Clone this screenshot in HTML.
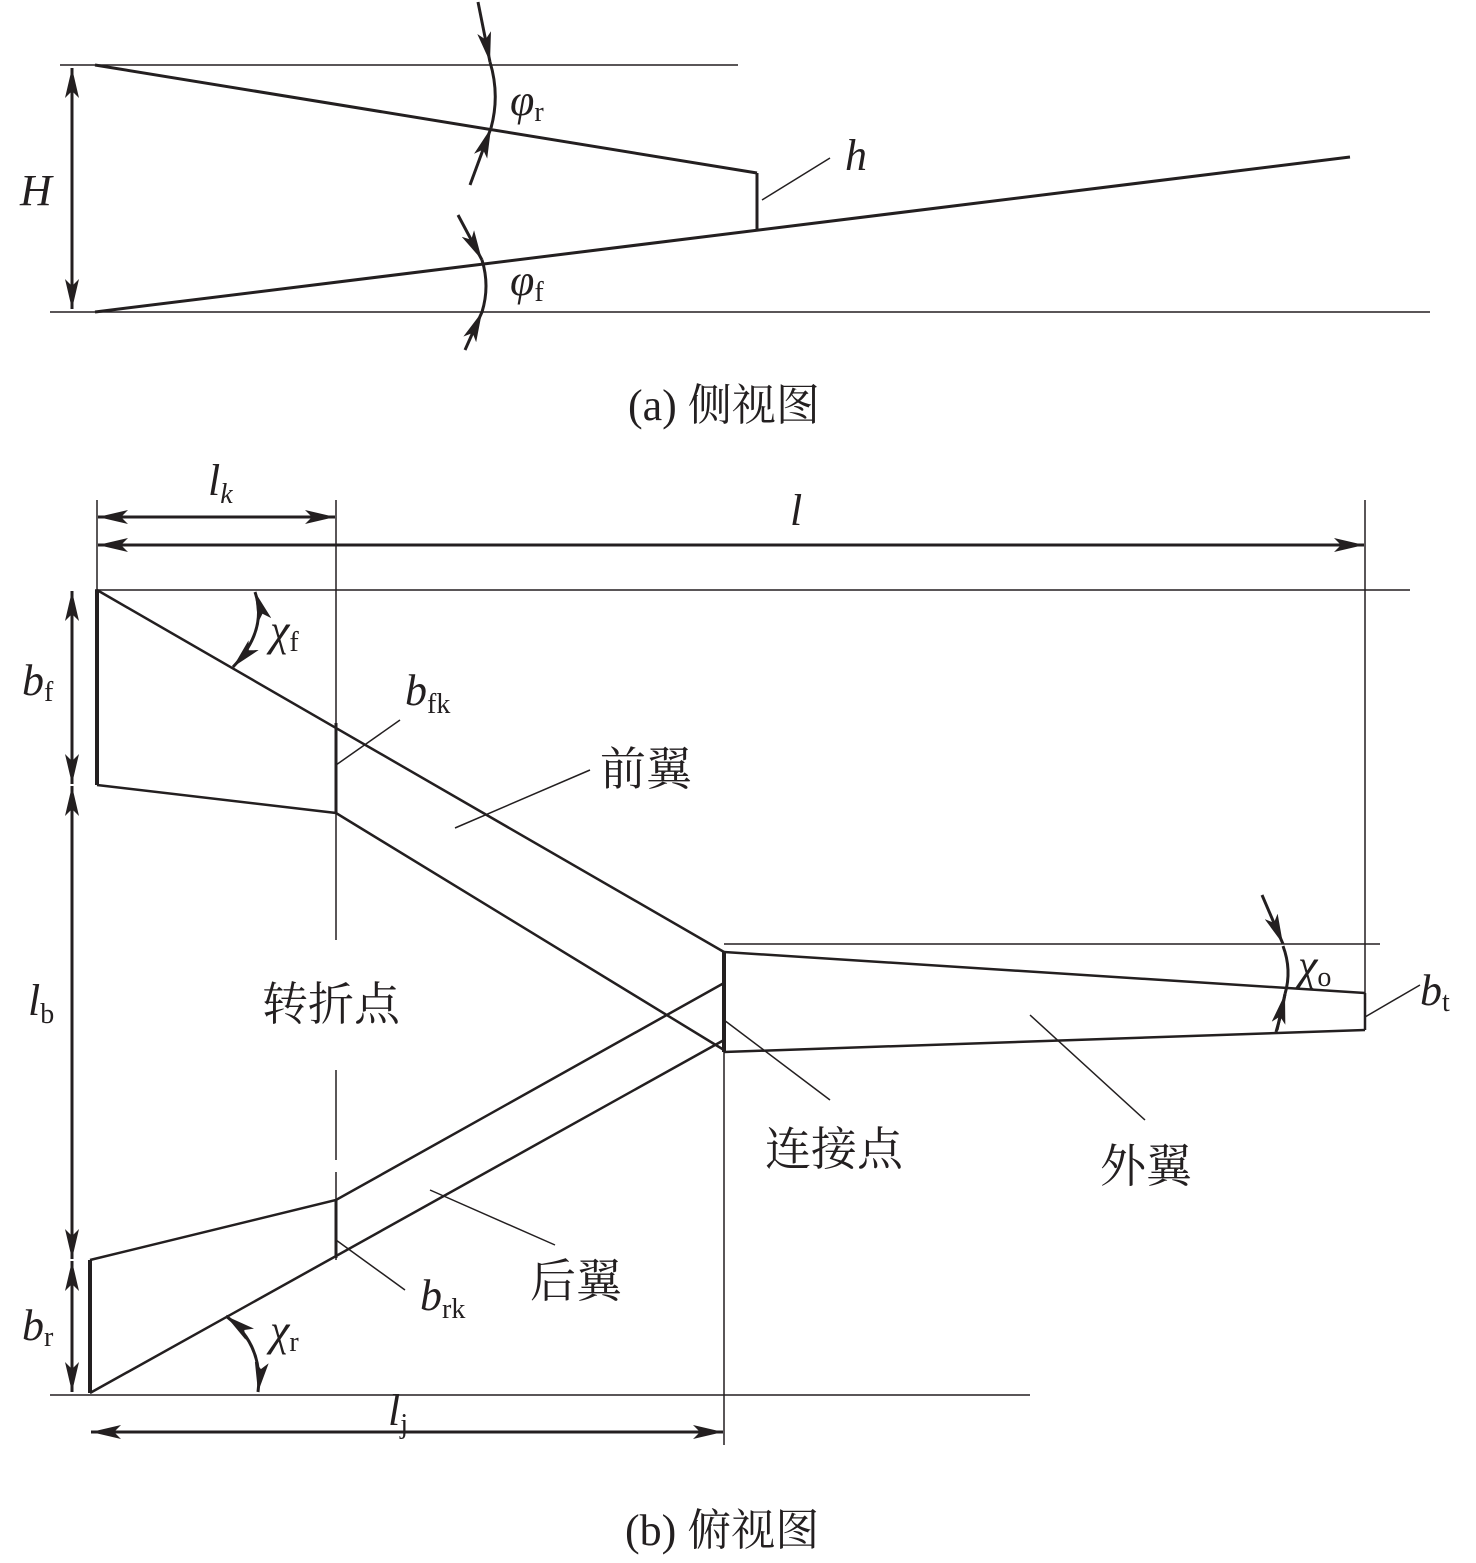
<!DOCTYPE html>
<html><head><meta charset="utf-8"><style>
html,body{margin:0;padding:0;background:#fff}
svg{display:block}
text{font-family:"Liberation Serif","Noto Serif CJK SC",serif;fill:#231f20}
.i{font-style:italic}
.zh{font-family:"Liberation Serif","Noto Serif CJK SC","Noto Sans CJK SC",serif}
</style></head><body>
<svg width="1476" height="1563" viewBox="0 0 1476 1563" xmlns="http://www.w3.org/2000/svg">
<defs>
<marker id="a" viewBox="0 0 30 14" refX="30" refY="7" markerWidth="30" markerHeight="14" markerUnits="userSpaceOnUse" orient="auto-start-reverse">
<path d="M0,0 L30,7 L0,14 L7,7 z" fill="#231f20"/></marker>
</defs>
<g stroke="#231f20" fill="none">
<!-- (a) side view -->
<line x1="60" y1="65" x2="738" y2="65" stroke-width="1.5"/>
<line x1="50" y1="312" x2="1430" y2="312" stroke-width="1.5"/>
<line x1="95" y1="65" x2="757" y2="173" stroke-width="3"/>
<line x1="757" y1="173" x2="757" y2="229" stroke-width="3"/>
<line x1="95" y1="312" x2="1350" y2="157" stroke-width="3"/>
<line x1="72" y1="68" x2="72" y2="309" stroke-width="3" marker-start="url(#a)" marker-end="url(#a)"/>
<path d="M490,62 Q500,95 491,128" stroke-width="3"/>
<line x1="478" y1="2" x2="490" y2="62" stroke-width="3" marker-end="url(#a)"/>
<line x1="470" y1="185" x2="491" y2="128" stroke-width="3" marker-end="url(#a)"/>
<path d="M482,260 Q490,286 482,312" stroke-width="3"/>
<line x1="458" y1="215" x2="482" y2="260" stroke-width="3" marker-end="url(#a)"/>
<line x1="465" y1="350" x2="482" y2="312" stroke-width="3" marker-end="url(#a)"/>
<line x1="762" y1="200" x2="830" y2="158" stroke-width="1.5"/>

<!-- (b) top view -->
<line x1="95" y1="590" x2="1410" y2="590" stroke-width="1.5"/>
<line x1="97" y1="500" x2="97" y2="590" stroke-width="1.5"/>
<line x1="336" y1="500" x2="336" y2="940" stroke-width="1.5"/>
<line x1="336" y1="1070" x2="336" y2="1260" stroke-width="1.5" stroke-dasharray="90,12"/>
<line x1="1365" y1="500" x2="1365" y2="993" stroke-width="1.5"/>
<line x1="98" y1="517" x2="335" y2="517" stroke-width="3" marker-start="url(#a)" marker-end="url(#a)"/>
<line x1="98" y1="545" x2="1364" y2="545" stroke-width="3" marker-start="url(#a)" marker-end="url(#a)"/>
<!-- front wing -->
<line x1="97" y1="590" x2="97" y2="785" stroke-width="4"/>
<line x1="97" y1="590" x2="724" y2="952" stroke-width="2.5"/>
<polyline points="97,785 336,813 724,1050" stroke-width="2.5"/>
<line x1="336" y1="723" x2="336" y2="813" stroke-width="3"/>
<!-- outer wing -->
<line x1="724" y1="952" x2="724" y2="1052" stroke-width="4"/>
<line x1="724" y1="952" x2="1365" y2="993" stroke-width="2.5"/>
<line x1="724" y1="1052" x2="1365" y2="1030" stroke-width="2.5"/>
<line x1="1365" y1="993" x2="1365" y2="1030" stroke-width="2.5"/>
<line x1="724" y1="944" x2="1380" y2="944" stroke-width="1.5"/>
<!-- rear wing -->
<line x1="90" y1="1260" x2="90" y2="1393" stroke-width="4"/>
<polyline points="90,1260 336,1200 724,983" stroke-width="2.5"/>
<line x1="90" y1="1393" x2="724" y2="1040" stroke-width="2.5"/>
<line x1="336" y1="1200" x2="336" y2="1258" stroke-width="3"/>
<line x1="50" y1="1395" x2="1030" y2="1395" stroke-width="1.5"/>
<line x1="724" y1="1050" x2="724" y2="1445" stroke-width="1.5"/>
<line x1="91" y1="1432" x2="723" y2="1432" stroke-width="3" marker-start="url(#a)" marker-end="url(#a)"/>
<!-- left dims -->
<line x1="72" y1="591" x2="72" y2="784" stroke-width="3" marker-start="url(#a)" marker-end="url(#a)"/>
<line x1="72" y1="786" x2="72" y2="1259" stroke-width="3" marker-start="url(#a)" marker-end="url(#a)"/>
<line x1="72" y1="1261" x2="72" y2="1392" stroke-width="3" marker-start="url(#a)" marker-end="url(#a)"/>
<!-- angle arcs -->
<path d="M255,592 Q268,630 233,667" stroke-width="3" marker-start="url(#a)" marker-end="url(#a)"/>
<path d="M226,1316 Q264,1345 258,1392" stroke-width="3" marker-start="url(#a)" marker-end="url(#a)"/>
<path d="M1283,946 Q1292,970 1285,994" stroke-width="3"/>
<path d="M1285,994 Q1282,1012 1276,1032" stroke-width="3"/>
<line x1="1262" y1="895" x2="1283" y2="944" stroke-width="3" marker-end="url(#a)"/>
<line x1="1277" y1="1030" x2="1285" y2="994" stroke-width="3" marker-end="url(#a)"/>
<!-- leaders -->
<line x1="336" y1="765" x2="400" y2="720" stroke-width="1.5"/>
<line x1="336" y1="1240" x2="405" y2="1290" stroke-width="1.5"/>
<line x1="455" y1="828" x2="590" y2="770" stroke-width="1.5"/>
<line x1="724" y1="1020" x2="830" y2="1100" stroke-width="1.5"/>
<line x1="1030" y1="1015" x2="1145" y2="1120" stroke-width="1.5"/>
<line x1="430" y1="1190" x2="555" y2="1245" stroke-width="1.5"/>
<line x1="1365" y1="1017" x2="1420" y2="985" stroke-width="1.5"/>
</g>
<!-- text (a) -->
<text x="20" y="205" font-size="44" class="i">H</text>
<text x="510" y="115" font-size="44" class="i">φ<tspan font-size="28" font-style="normal" dy="6">r</tspan></text>
<text x="510" y="295" font-size="44" class="i">φ<tspan font-size="28" font-style="normal" dy="6">f</tspan></text>
<text x="845" y="170" font-size="44" class="i">h</text>
<text x="628" y="420" font-size="44" class="zh">(a) 侧视图</text>
<!-- text (b) -->
<text x="208" y="495" font-size="44" class="i">l<tspan font-size="28" dy="8">k</tspan></text>
<text x="790" y="525" font-size="44" class="i">l</text>
<text x="22" y="695" font-size="44" class="i">b<tspan font-size="28" font-style="normal" dy="6">f</tspan></text>
<text x="28" y="1015" font-size="44" class="i">l<tspan font-size="28" font-style="normal" dy="8">b</tspan></text>
<text x="22" y="1340" font-size="44" class="i">b<tspan font-size="28" font-style="normal" dy="6">r</tspan></text>
<text x="270" y="645" font-size="44" class="i">χ<tspan font-size="28" font-style="normal" dy="6">f</tspan></text>
<text x="270" y="1345" font-size="44" class="i">χ<tspan font-size="28" font-style="normal" dy="6">r</tspan></text>
<text x="1298" y="980" font-size="44" class="i">χ<tspan font-size="28" font-style="normal" dy="6">o</tspan></text>
<text x="405" y="705" font-size="44" class="i">b<tspan font-size="28" font-style="normal" dy="8">fk</tspan></text>
<text x="420" y="1310" font-size="44" class="i">b<tspan font-size="28" font-style="normal" dy="8">rk</tspan></text>
<text x="1420" y="1005" font-size="44" class="i">b<tspan font-size="28" font-style="normal" dy="6">t</tspan></text>
<text x="388" y="1425" font-size="44" class="i">l<tspan font-size="28" font-style="normal" dy="8">j</tspan></text>
<text x="600" y="785" font-size="46" class="zh">前翼</text>
<text x="262" y="1020" font-size="46" class="zh">转折点</text>
<text x="765" y="1165" font-size="46" class="zh">连接点</text>
<text x="1100" y="1182" font-size="46" class="zh">外翼</text>
<text x="530" y="1297" font-size="46" class="zh">后翼</text>
<text x="625" y="1545" font-size="44" class="zh">(b) 俯视图</text>
</svg>
</body></html>
